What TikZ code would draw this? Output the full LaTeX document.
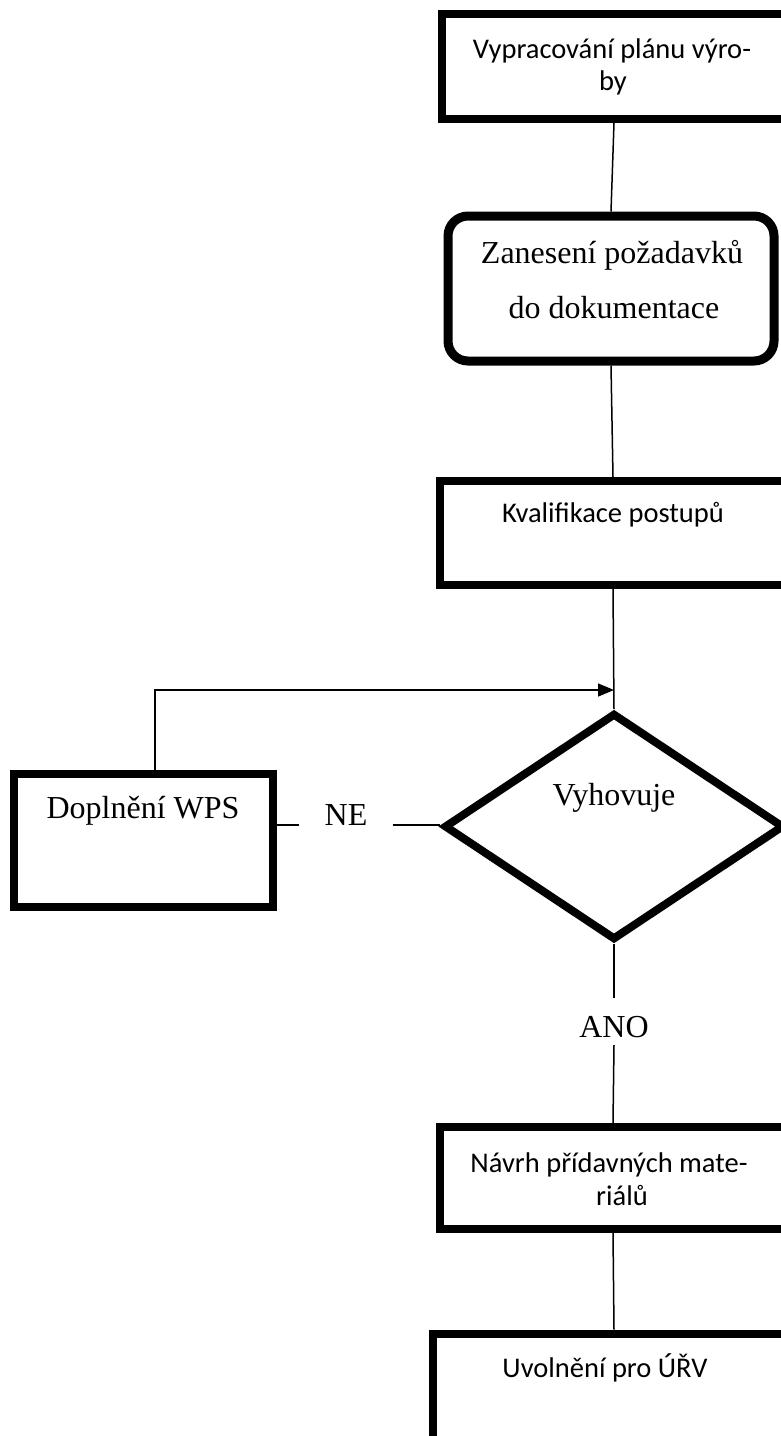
\documentclass[tikz,border=0pt]{standalone}
\usepackage{fontspec}
\setmainfont{Liberation Serif}
\newfontfamily\calibfont{Carlito}
\usetikzlibrary{shapes.geometric,arrows.meta}
\begin{document}
\begin{tikzpicture}[x=1pt,y=-1pt,
  boxstyle/.style={draw, line width=8pt, rectangle, inner sep=0pt},
  roundbox/.style={draw, line width=9pt, rectangle, rounded corners=20pt, inner sep=0pt},
  diastyle/.style={draw, diamond, line width=8pt, inner sep=0pt, aspect=1.5},
  conn/.style={line width=1.5pt},
  sanstext/.style={font=\calibfont\fontsize{28.5}{33}\selectfont, anchor=base, inner sep=0pt},
  seriftext/.style={font=\fontsize{32}{38}\selectfont, anchor=base, inner sep=0pt}]

\useasboundingbox (0,0) rectangle (781,1436);
\clip (0,0) rectangle (781,1436);

% shapes
\node[boxstyle, minimum width=344pt, minimum height=105pt] (b1) at (614,66.5) {};
\node[roundbox, minimum width=326pt, minimum height=145pt] (b2) at (611,288.5) {};
\node[boxstyle, minimum width=346pt, minimum height=104pt] (b3) at (613,533) {};
\node[boxstyle, minimum width=259pt, minimum height=133pt] (dop) at (143.5,840) {};
\node[diastyle, minimum width=340pt, minimum height=227pt] (dia) at (614,826.5) {};
\node[boxstyle, minimum width=346pt, minimum height=102pt] (b5) at (613,1178) {};
\node[boxstyle, minimum width=362pt, minimum height=150pt] (b6) at (614,1408.5) {};

% texts
\node[sanstext] (t1a) at (612,58) {Vypracování plánu výro-};
\node[sanstext] (t1b) at (613,90) {by};
\node[seriftext] (t2a) at (612,263) {Zanesení požadavků};
\node[seriftext] (t2b) at (614,318) {do dokumentace};
\node[sanstext] (t3) at (613,522) {Kvalifikace postupů};
\node[seriftext] (tdop) at (143,818) {Doplnění WPS};
\node[seriftext, inner xsep=25pt] (ne) at (346,825) {NE};
\node[seriftext] (tvyh) at (614,805) {Vyhovuje};
\node[seriftext, text height=39pt, text depth=8pt] (ano) at (614,1037) {ANO};
\node[sanstext] (t5a) at (609,1172) {Návrh přídavných mate-};
\node[sanstext] (t5b) at (622,1205) {riálů};
\node[sanstext] (t6) at (605,1377) {Uvolnění pro ÚŘV};

% connectors
\coordinate (join) at (614,690);
\draw[conn] (b1.south) -- (b2.north);
\draw[conn] (b2.south) -- (b3.north);
\draw[conn] (b3.south) -- (dia.north);
\draw[conn, -{Triangle[length=16pt,width=13pt]}] ([xshift=11.5pt]dop.north) |- (join);
\draw[conn] (dop.east |- ne.base) -- (ne.base west);
\draw[conn] (ne.base east) -- (dia.west |- ne.base);
\draw[conn] (dia.south) -- (ano.north);
\draw[conn] (ano.south) -- (b5.north);
\draw[conn] (b5.south) -- (b6.north);
\end{tikzpicture}
\end{document}
